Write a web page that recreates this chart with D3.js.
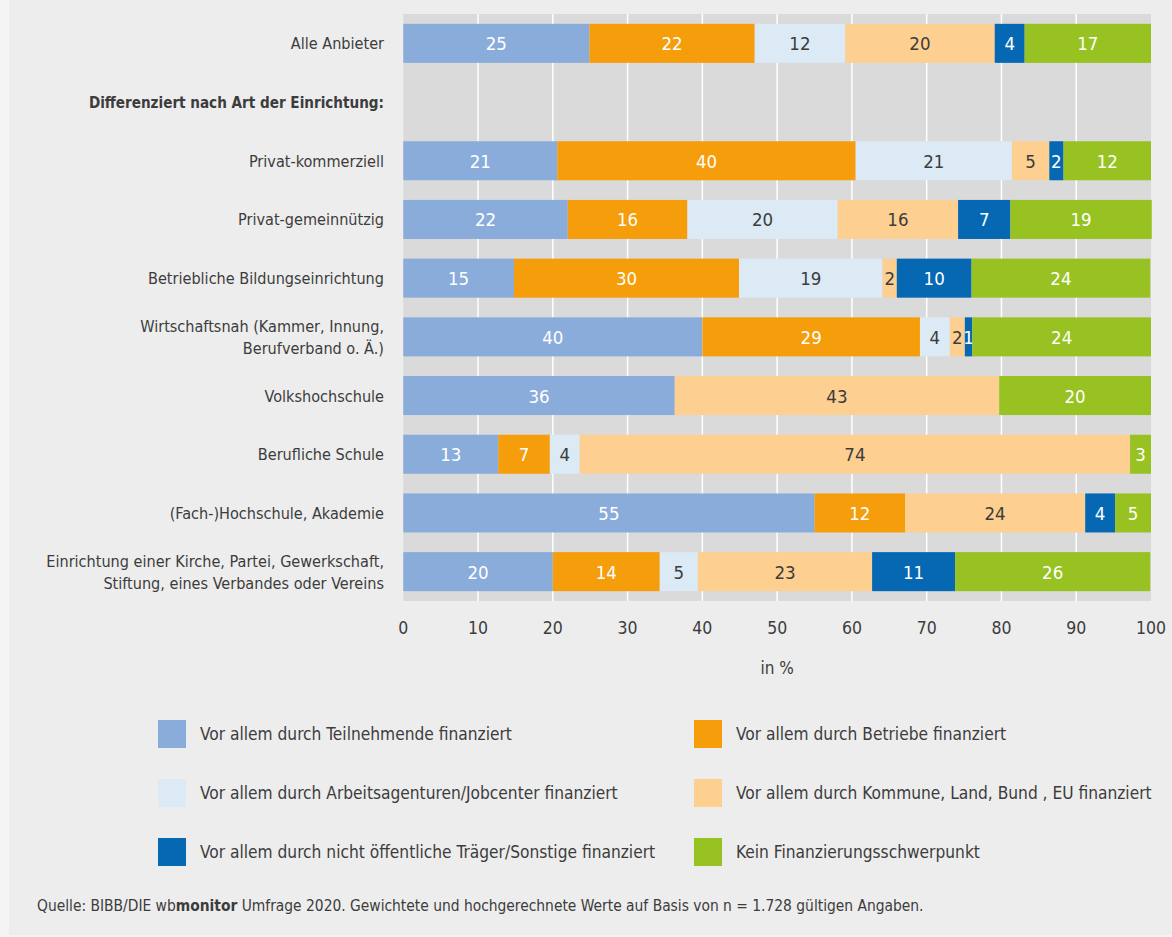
<!DOCTYPE html>
<html>
<head>
<meta charset="utf-8">
<script src="https://cdn.jsdelivr.net/npm/d3@7"></script>
<style>
  body { margin: 0; background: #f4f4f4; }
  text { font-family: 'Liberation Sans Narrow', 'DejaVu Sans Condensed', sans-serif; }
</style>
</head>
<body>
<script>
// categories (the second row is only a heading, without a bar)
let categories = [
  'Alle Anbieter',
  'Differenziert nach Art der Einrichtung:',
  'Privat-kommerziell',
  'Privat-gemeinnützig',
  'Betriebliche Bildungseinrichtung',
  'Wirtschaftsnah (Kammer, Innung,|Berufverband o. Ä.)',
  'Volkshochschule',
  'Berufliche Schule',
  '(Fach-)Hochschule, Akademie',
  'Einrichtung einer Kirche, Partei, Gewerkschaft,|Stiftung, eines Verbandes oder Vereins'
];
let headingRow = 'Differenziert nach Art der Einrichtung:';

let seriesNames = [
  'Vor allem durch Teilnehmende finanziert',
  'Vor allem durch Betriebe finanziert',
  'Vor allem durch Arbeitsagenturen/Jobcenter finanziert',
  'Vor allem durch Kommune, Land, Bund , EU finanziert',
  'Vor allem durch nicht öffentliche Träger/Sonstige finanziert',
  'Kein Finanzierungsschwerpunkt'
];

// values in %, one entry per category (null = heading row)
let teilnehmende     = [24.9, null, 20.6, 22.0, 14.8, 40.0, 36.3, 12.7, 55.0, 20.0];
let betriebe         = [22.1, null, 39.9, 16.0, 30.1, 29.1,  0,    6.9, 12.1, 14.3];
let arbeitsagenturen = [12.1, null, 20.9, 20.1, 19.2,  4.0,  0,    4.0,  0,    5.1];
let kommune          = [20.0, null,  5.0, 16.1,  1.9,  2.0, 43.4, 73.6, 24.1, 23.3];
let sonstige         = [ 4.0, null,  1.9,  7.0, 10.0,  1.0,  0,    0,    4.0, 11.1];
let keinSchwerpunkt  = [16.9, null, 11.7, 18.9, 23.9, 23.9, 20.3,  2.8,  4.8, 26.1];

let xTicks = [0, 10, 20, 30, 40, 50, 60, 70, 80, 90, 100];

let colors = ['#8aacdb', '#f59d0b', '#dbeaf5', '#fdcf91', '#0668b3', '#97c222'];
let labelColors = ['#fff', '#fff', '#3c3c3c', '#3c3c3c', '#fff', '#fff'];

let w = 1172;
let h = 937;
let textColor = '#3c3c3c';

let allSeries = [teilnehmende, betriebe, arbeitsagenturen, kommune, sonstige, keinSchwerpunkt];
let keys = seriesNames.map((d, i) => 'k' + i);
let rows = categories.map((c, j) => {
  let row = { category: c };
  keys.forEach((k, i) => { row[k] = allSeries[i][j] || 0; });
  return row;
}).filter((r) => r.category !== headingRow);

let stacked = d3.stack().keys(keys)(rows);

let xScale = d3.scaleLinear()
  .domain([0, 100])
  .range([403.3, 1151]);
let yScale = d3.scaleBand()
  .domain(categories)
  .range([14, 601])
  .paddingInner(0.335)
  .paddingOuter(0.1675);

let svg = d3.select('body')
  .append('svg')
  .attr('width', w)
  .attr('height', h);

// panel background
svg.append('rect')
  .attr('x', 9)
  .attr('y', 0)
  .attr('width', w - 9)
  .attr('height', 935)
  .attr('fill', '#ededed');

// plot area
svg.append('rect')
  .attr('x', xScale(0))
  .attr('y', 14)
  .attr('width', xScale(100) - xScale(0))
  .attr('height', 601 - 14)
  .attr('fill', '#dadada');

// white gridlines
svg.selectAll('line.grid')
  .data(xTicks.slice(1, -1))
  .enter()
  .append('line')
  .attr('class', 'grid')
  .attr('x1', (d) => { return xScale(d); })
  .attr('x2', (d) => { return xScale(d); })
  .attr('y1', 14)
  .attr('y2', 601)
  .attr('stroke', '#fff')
  .attr('stroke-width', 1.5);

// bars
let groups = svg.selectAll('g.series')
  .data(stacked)
  .enter()
  .append('g')
  .attr('class', 'series')
  .attr('fill', (d, i) => { return colors[i]; });

groups.selectAll('rect')
  .data((d) => { return d.filter((p) => p[1] - p[0] > 0); })
  .enter()
  .append('rect')
  .attr('x', (d) => { return xScale(d[0]); })
  .attr('y', (d) => { return yScale(d.data.category); })
  .attr('width', (d) => { return xScale(d[1]) - xScale(d[0]); })
  .attr('height', yScale.bandwidth());

// value labels
groups.each(function(s, i) {
  d3.select(this).selectAll('text')
    .data(s.filter((p) => p[1] - p[0] > 0))
    .enter()
    .append('text')
    .text((d) => { return Math.round(d[1] - d[0]); })
    .attr('x', (d) => { return xScale((d[0] + d[1]) / 2); })
    .attr('y', (d) => { return yScale(d.data.category) + yScale.bandwidth() / 2 + 7; })
    .attr('text-anchor', 'middle')
    .attr('font-size', '18.5px')
    .attr('fill', labelColors[i]);
});

// category labels
categories.forEach((c) => {
  let lines = c.split('|');
  let cy = yScale(c) + yScale.bandwidth() / 2;
  let isHeading = c === headingRow;
  let t = svg.append('text')
    .attr('x', 384)
    .attr('y', cy + 6 - (lines.length - 1) * 11)
    .attr('text-anchor', 'end')
    .attr('font-size', isHeading ? '15.1px' : '16.1px')
    .attr('font-weight', isHeading ? 'bold' : 'normal')
    .attr('fill', textColor);
  lines.forEach((l, i) => {
    t.append('tspan')
      .attr('x', 384)
      .attr('dy', i === 0 ? 0 : 22)
      .text(l);
  });
});

// x axis tick labels
svg.selectAll('text.tick')
  .data(xTicks)
  .enter()
  .append('text')
  .attr('class', 'tick')
  .text((d) => { return d; })
  .attr('x', (d) => { return xScale(d); })
  .attr('y', 634)
  .attr('text-anchor', 'middle')
  .attr('font-size', '17.5px')
  .attr('fill', textColor);

svg.append('text')
  .text('in %')
  .attr('x', xScale(50))
  .attr('y', 674)
  .attr('text-anchor', 'middle')
  .attr('font-size', '17px')
  .attr('fill', textColor);

// legend, two columns
let legend = svg.selectAll('g.legend')
  .data(seriesNames)
  .enter()
  .append('g')
  .attr('class', 'legend')
  .attr('transform', (d, i) => {
    return 'translate(' + (i % 2 === 0 ? 158 : 694) + ',' + (720 + Math.floor(i / 2) * 59) + ')';
  });

legend.append('rect')
  .attr('width', 28)
  .attr('height', 28)
  .attr('fill', (d, i) => { return colors[i]; });

legend.append('text')
  .text((d) => { return d; })
  .attr('x', 42)
  .attr('y', 20)
  .attr('font-size', '17.2px')
  .attr('fill', textColor);

// source note
let note = svg.append('text')
  .attr('x', 37)
  .attr('y', 911)
  .attr('font-size', '15.4px')
  .attr('fill', textColor);
note.append('tspan').text('Quelle: BIBB/DIE wb');
note.append('tspan').attr('font-weight', 'bold').text('monitor');
note.append('tspan').text(' Umfrage 2020. Gewichtete und hochgerechnete Werte auf Basis von n = 1.728 gültigen Angaben.');
</script>
</body>
</html>
